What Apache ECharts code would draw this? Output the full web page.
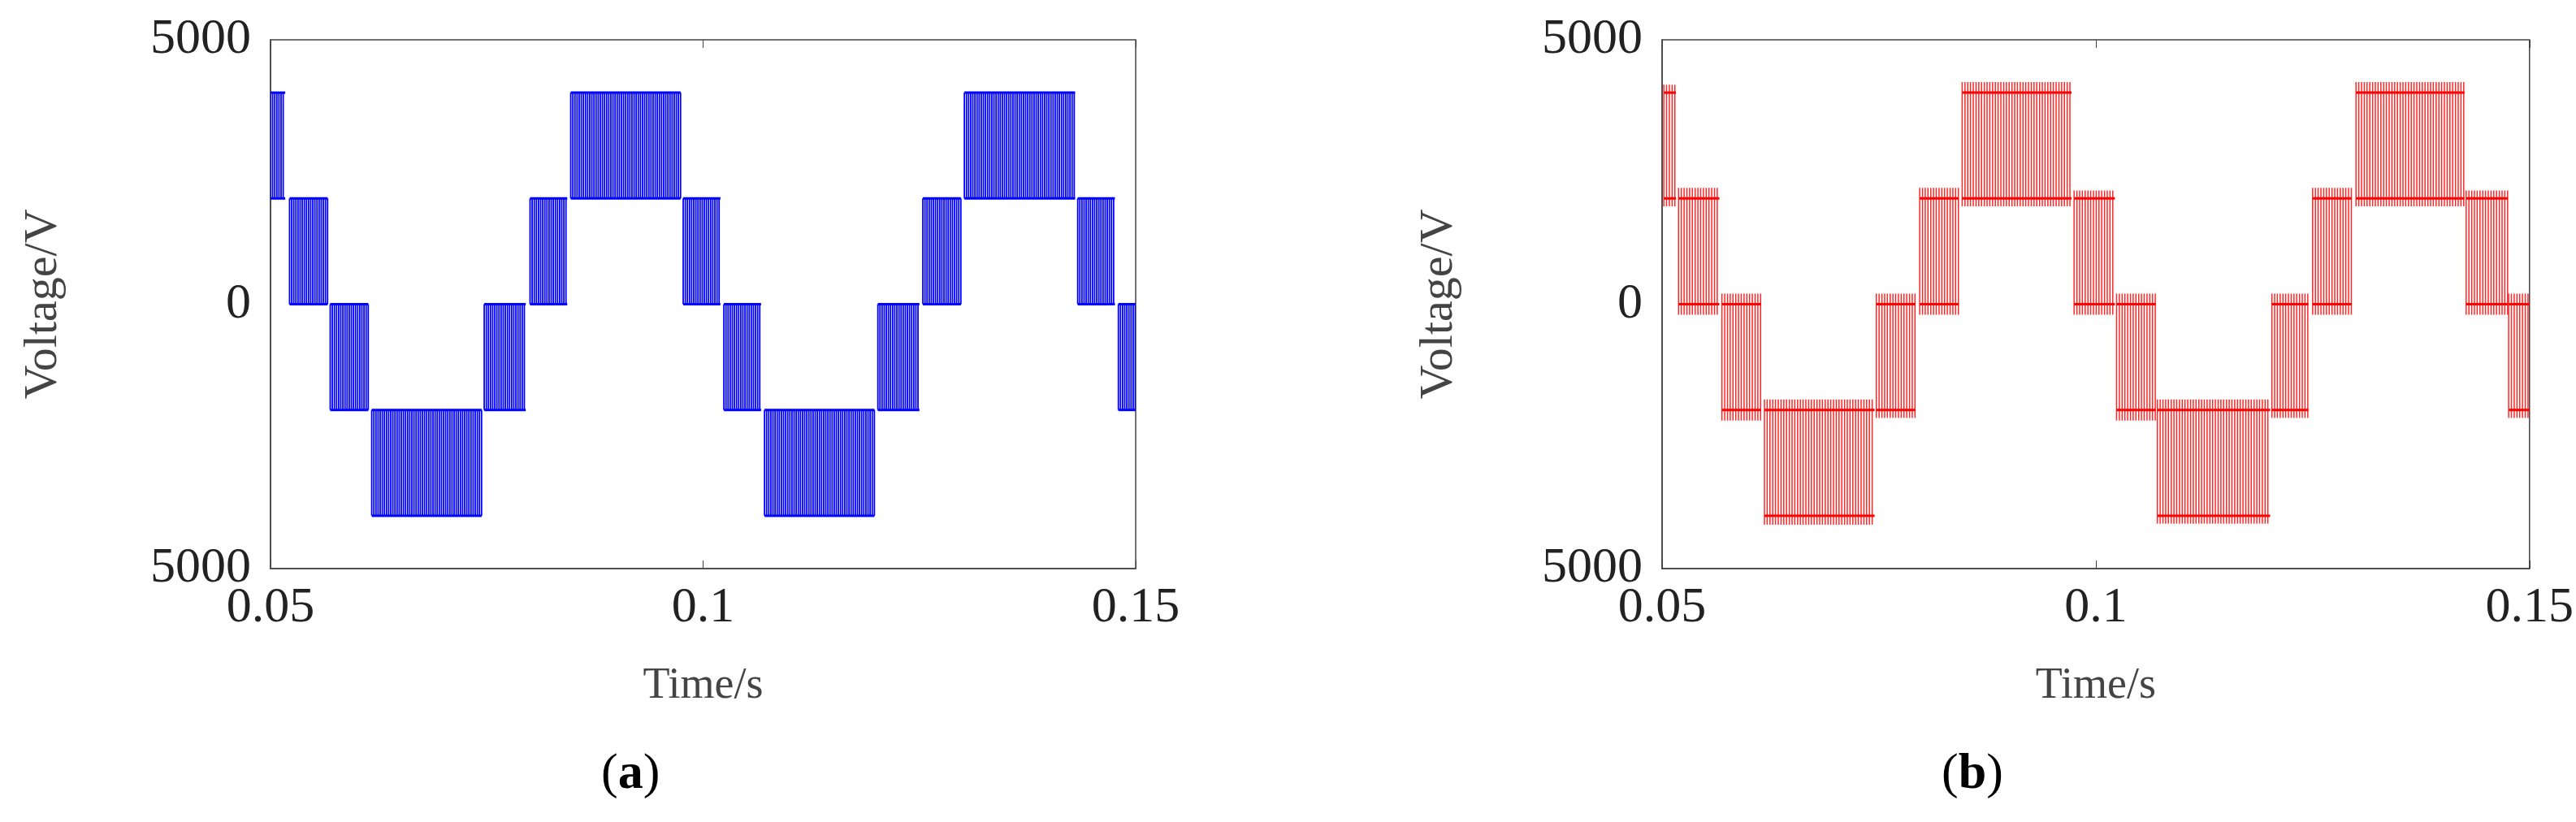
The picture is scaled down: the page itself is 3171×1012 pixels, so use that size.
<!DOCTYPE html>
<html>
<head>
<meta charset="utf-8">
<script src="https://cdn.jsdelivr.net/npm/echarts@6/dist/echarts.min.js"></script>
<style>html,body{margin:0;background:#fff}#main{width:3171px;height:1012px}</style>
</head>
<body>
<div id="main"></div>
<script>
// x ticks / y ticks
var xTicks = [0.05, 0.1, 0.15];
var xTickLabels = ['0.05', '0.1', '0.15'];
var yTicks = [-5000, 0, 5000];
var yTickLabels = ['5000', '0', '5000'];

// (a) ideal output: segment start, end (s), lower level, upper level (V)
var aStart = [0.0500, 0.0522, 0.0569, 0.0617, 0.0747, 0.0800, 0.0847, 0.0977, 0.1024, 0.1071, 0.1202, 0.1254, 0.1302, 0.1433, 0.1480];
var aEnd   = [0.0517, 0.0566, 0.0613, 0.0744, 0.0795, 0.0843, 0.0974, 0.1020, 0.1067, 0.1198, 0.1250, 0.1298, 0.1430, 0.1476, 0.1500];
var aLow   = [2000, 0, -2000, -4000, -2000, 0, 2000, 0, -2000, -4000, -2000, 0, 2000, 0, -2000];
var aHigh  = [4000, 2000, 0, -2000, 0, 2000, 4000, 2000, 0, -2000, 0, 2000, 4000, 2000, 0];

// (b) measured output: segment times, spike extents and nominal levels
var bStart = [0.0502, 0.0519, 0.0569, 0.0618, 0.0747, 0.0797, 0.0846, 0.0975, 0.1024, 0.1071, 0.1203, 0.1250, 0.1300, 0.1427, 0.1476];
var bEnd   = [0.0516, 0.0566, 0.0614, 0.0745, 0.0792, 0.0842, 0.0972, 0.1022, 0.1069, 0.1201, 0.1245, 0.1295, 0.1425, 0.1475, 0.1500];
var bMin   = [1850, -200, -2200, -4170, -2150, -200, 1850, -200, -2200, -4150, -2150, -200, 1850, -200, -2150];
var bMax   = [4150, 2200, 200, -1800, 200, 2200, 4200, 2150, 200, -1800, 200, 2200, 4200, 2150, 200];
var bLow   = [2000, 0, -2000, -4000, -2000, 0, 2000, 0, -2000, -4000, -2000, 0, 2000, 0, -2000];
var bHigh  = [4000, 2000, 0, -2000, 0, 2000, 4000, 2000, 0, -2000, 0, 2000, 4000, 2000, 0];

var FONT = '"Liberation Serif", "DejaVu Serif", serif';

function rows(s, e, lo, hi, mn, mx) {
    return s.map(function (v, i) {
        return [v, e[i], lo[i], hi[i], mn ? mn[i] : lo[i], mx ? mx[i] : hi[i]];
    });
}

function bandRender(color, gap, lw, opacity) {
    return function (params, api) {
        var p0 = api.coord([api.value(0), api.value(4)]);
        var p1 = api.coord([api.value(1), api.value(5)]);
        var l0 = api.coord([api.value(0), api.value(2)]);
        var h0 = api.coord([api.value(1), api.value(3)]);
        var kids = [];
        for (var x = p0[0]; x <= p1[0]; x += gap) {
            kids.push({type: 'line', shape: {x1: x, y1: p0[1], x2: x, y2: p1[1]},
                style: {stroke: color, lineWidth: lw, opacity: opacity}});
        }
        kids.push({type: 'line', shape: {x1: p0[0], y1: l0[1], x2: p1[0], y2: l0[1]},
            style: {stroke: color, lineWidth: 3}});
        kids.push({type: 'line', shape: {x1: p0[0], y1: h0[1], x2: p1[0], y2: h0[1]},
            style: {stroke: color, lineWidth: 3}});
        return {type: 'group', children: kids};
    };
}

var grids = [
    {left: 333, width: 1065, top: 49, height: 651},
    {left: 2046, width: 1087, top: 49, height: 651}
];
var xAxes = [], yAxes = [];
grids.forEach(function (g, i) {
    g.show = true; g.borderColor = '#444'; g.borderWidth = 1.5;
    xAxes.push({
        type: 'value', gridIndex: i, min: 0.05, max: 0.15, interval: 0.05,
        name: 'Time/s', nameLocation: 'middle', nameGap: 118,
        nameTextStyle: {fontFamily: FONT, fontSize: 54, color: '#444'},
        axisLine: {onZero: false, lineStyle: {color: '#444', width: 1.5}},
        axisTick: {inside: true, length: 10, lineStyle: {color: '#444'}},
        axisLabel: {fontFamily: FONT, fontSize: 62, color: '#222', margin: 18,
            formatter: function (v) { return xTickLabels[xTicks.indexOf(Math.round(v * 100) / 100)] || ''; }},
        splitLine: {show: false}
    });
    xAxes.push({
        type: 'value', gridIndex: i, position: 'top', min: 0.05, max: 0.15, interval: 0.05,
        axisLine: {show: false, onZero: false}, axisLabel: {show: false}, splitLine: {show: false},
        axisTick: {inside: true, length: 10, lineStyle: {color: '#444'}}
    });
    yAxes.push({
        type: 'value', gridIndex: i, min: -5000, max: 5000, interval: 5000,
        name: 'Voltage/V', nameLocation: 'middle', nameGap: i === 0 ? 250 : 245,
        nameTextStyle: {fontFamily: FONT, fontSize: 58, color: '#444'},
        axisLine: {onZero: false, lineStyle: {color: '#444', width: 1.5}},
        axisTick: {show: false},
        axisLabel: {fontFamily: FONT, fontSize: 62, color: '#222', margin: 24,
            formatter: function (v) { return yTickLabels[yTicks.indexOf(v)]; }},
        splitLine: {show: false}
    });
});

var capStyle = {fontFamily: FONT, fontSize: 62, fontWeight: 'normal', color: '#000',
    rich: {a: {fontFamily: FONT, fontSize: 62, fontWeight: 'bold', color: '#000'}}};

var chart = echarts.init(document.getElementById('main'));
chart.setOption({
    backgroundColor: '#fff',
    animation: false,
    title: [
        {text: '({a|a})', left: 735, top: 918, textStyle: capStyle},
        {text: '({a|b})', left: 2385, top: 918, textStyle: capStyle}
    ],
    grid: grids,
    xAxis: xAxes,
    yAxis: yAxes,
    series: [
        {type: 'custom', xAxisIndex: 0, yAxisIndex: 0, clip: true,
            renderItem: bandRender('#0000ff', 2.6, 1.8, 1),
            data: rows(aStart, aEnd, aLow, aHigh)},
        {type: 'custom', xAxisIndex: 2, yAxisIndex: 1, clip: true,
            renderItem: bandRender('#ff0000', 3.4, 1.5, 0.85),
            data: rows(bStart, bEnd, bLow, bHigh, bMin, bMax)}
    ]
});
</script>
</body>
</html>
